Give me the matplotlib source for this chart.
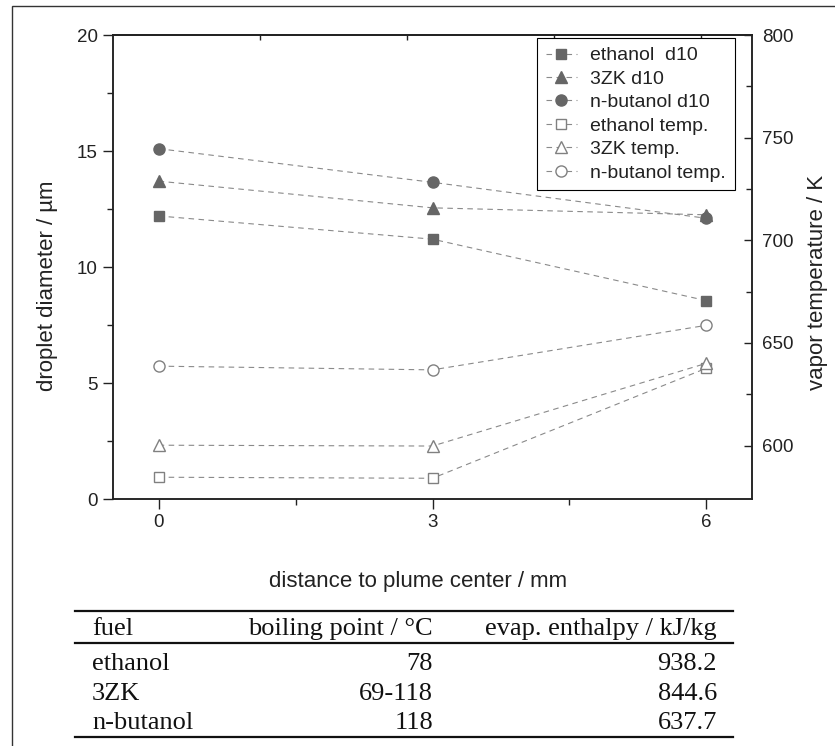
import matplotlib
matplotlib.use("Agg")
import matplotlib.pyplot as plt
from matplotlib.lines import Line2D
from matplotlib.patches import Rectangle
from matplotlib.ticker import FixedLocator, MultipleLocator

# canvas size in pixels (dpi 100)
W, H = 835, 746

# --- data ---
distance_mm = [0, 3, 6]

ethanol_d10 = [12.2, 11.2, 8.55]
zk3_d10 = [13.7, 12.55, 12.25]
butanol_d10 = [15.1, 13.65, 12.1]

ethanol_temp = [584.6, 584.1, 637.7]
zk3_temp = [600.2, 599.8, 640.1]
butanol_temp = [638.7, 636.9, 658.6]

table_header = ["fuel", "boiling point / °C", "evap. enthalpy / kJ/kg"]
table_fuel = ["ethanol", "3ZK", "n-butanol"]
table_boiling = ["78", "69-118", "118"]
table_enthalpy = ["938.2", "844.6", "637.7"]

SANS = "Liberation Sans"
SERIF = "Liberation Serif"
LINE_GREY = "#8a8a8a"
FILL_GREY = "#666666"
OPEN_GREY = "#808080"
AX_COLOR = "#222222"


def fx(px):
    return px / W


def fy(py):
    return 1 - py / H


plt.rcParams["font.family"] = SANS

fig = plt.figure(figsize=(W / 100, H / 100), dpi=100)
ax = fig.add_axes([fx(113), fy(499), (752 - 113) / W, (499 - 35) / H])
ax2 = ax.twinx()

dash = (0, (5, 4))
common = dict(linestyle=dash, linewidth=0.8, color=LINE_GREY)

# 1. droplet diameter (left axis), filled markers
h_eth, = ax.plot(distance_mm, ethanol_d10, marker="s", ms=7, mfc=FILL_GREY, mec=FILL_GREY, **common)
h_zk, = ax.plot(distance_mm, zk3_d10, marker="^", ms=8.5, mfc=FILL_GREY, mec=FILL_GREY, **common)
h_but, = ax.plot(distance_mm, butanol_d10, marker="o", ms=8, mfc=FILL_GREY, mec=FILL_GREY, **common)

# 2. vapor temperature (right axis), open markers
t_eth, = ax2.plot(distance_mm, ethanol_temp, marker="s", ms=7, mfc="white", mec=OPEN_GREY, mew=1, **common)
t_zk, = ax2.plot(distance_mm, zk3_temp, marker="^", ms=8.5, mfc="white", mec=OPEN_GREY, mew=1, **common)
t_but, = ax2.plot(distance_mm, butanol_temp, marker="o", ms=8, mfc="white", mec=OPEN_GREY, mew=1, **common)

# axes ranges and ticks
ax.set_xlim(-0.5, 6.5)
ax.set_xticks(distance_mm)
ax.xaxis.set_minor_locator(FixedLocator([1.5, 4.5]))
ax.set_ylim(0, 20)
ax.yaxis.set_major_locator(MultipleLocator(5))
ax.yaxis.set_minor_locator(MultipleLocator(2.5))
ax.tick_params(which="both", direction="out", colors=AX_COLOR, labelcolor="#222222",
               labelsize=13.5, top=False, right=False, width=1)
ax.tick_params(which="major", length=7, pad=4)
ax.tick_params(which="minor", length=4)

ax2.set_ylim(574, 800)
ax2.set_yticks([600, 650, 700, 750, 800])
ax2.yaxis.set_minor_locator(FixedLocator([625, 675, 725, 775]))
ax2.tick_params(axis="y", which="both", direction="in", colors=AX_COLOR, labelcolor="#222222",
                labelsize=13.5, width=1)
ax2.tick_params(axis="y", which="major", length=6, pad=7.5)
ax2.tick_params(axis="y", which="minor", length=4)

top = ax.secondary_xaxis("top")
top.set_xticks([1.11, 2.72, 4.33, 5.94], labels=[])
top.tick_params(direction="in", length=3.6, width=1, colors=AX_COLOR)

for a in (ax, ax2, top):
    for sp in a.spines.values():
        sp.set_linewidth(1.1)
        sp.set_color(AX_COLOR)

# axis labels
ax.set_xlabel("distance to plume center / mm", fontsize=16, color="#222222")
ax.xaxis.set_label_coords((418 - 113) / 639, (499 - 582) / 464)
ax.xaxis.label.set_verticalalignment("center")

ax.set_ylabel("droplet diameter / \u00b5m", fontsize=16, color="#222222")
ax.yaxis.set_label_coords((48 - 113) / 639, (499 - 286) / 464)
ax.yaxis.label.set_verticalalignment("center")

ax2.set_ylabel("vapor temperature / K", fontsize=16, color="#222222")
ax2.yaxis.set_label_coords((817 - 113) / 639, (499 - 282) / 464)
ax2.yaxis.label.set_verticalalignment("center")

# legend
handles = [h_eth, h_zk, h_but, t_eth, t_zk, t_but]
labels = ["ethanol  d10", "3ZK d10", "n-butanol d10", "ethanol temp.", "3ZK temp.", "n-butanol temp."]
leg = ax2.legend(handles, labels, loc="upper right", bbox_to_anchor=((735 - 113) / 639, (499 - 38) / 464),
                 borderaxespad=0, fancybox=False, edgecolor="black", framealpha=1, fontsize=14,
                 labelspacing=0.3, handlelength=1.6, handletextpad=0.7, borderpad=0.45, numpoints=1)
leg.get_frame().set_linewidth(0.8)
for txt in leg.get_texts():
    txt.set_color("#222222")

# outer frame around the whole figure
fig.add_artist(Rectangle((fx(12), -0.01), 1.0, fy(6) + 0.01, transform=fig.transFigure,
                         fill=False, edgecolor="#333333", linewidth=1))

# 3. property table below the chart
for y in (611, 643, 737):
    fig.add_artist(Line2D([fx(75), fx(733)], [fy(y), fy(y)], transform=fig.transFigure,
                          color="#111111", linewidth=1.6))

tkw = dict(family=SERIF, fontsize=19, va="baseline", color="#111111")
fig.text(fx(92), fy(635), table_header[0], ha="left", **tkw)
fig.text(fx(433), fy(635), table_header[1], ha="right", **tkw)
fig.text(fx(717), fy(635), table_header[2], ha="right", **tkw)
for i, base in enumerate([670, 700, 729]):
    fig.text(fx(92), fy(base), table_fuel[i], ha="left", **tkw)
    fig.text(fx(433), fy(base), table_boiling[i], ha="right", **tkw)
    fig.text(fx(717), fy(base), table_enthalpy[i], ha="right", **tkw)

fig.savefig("out.png", dpi=100)
